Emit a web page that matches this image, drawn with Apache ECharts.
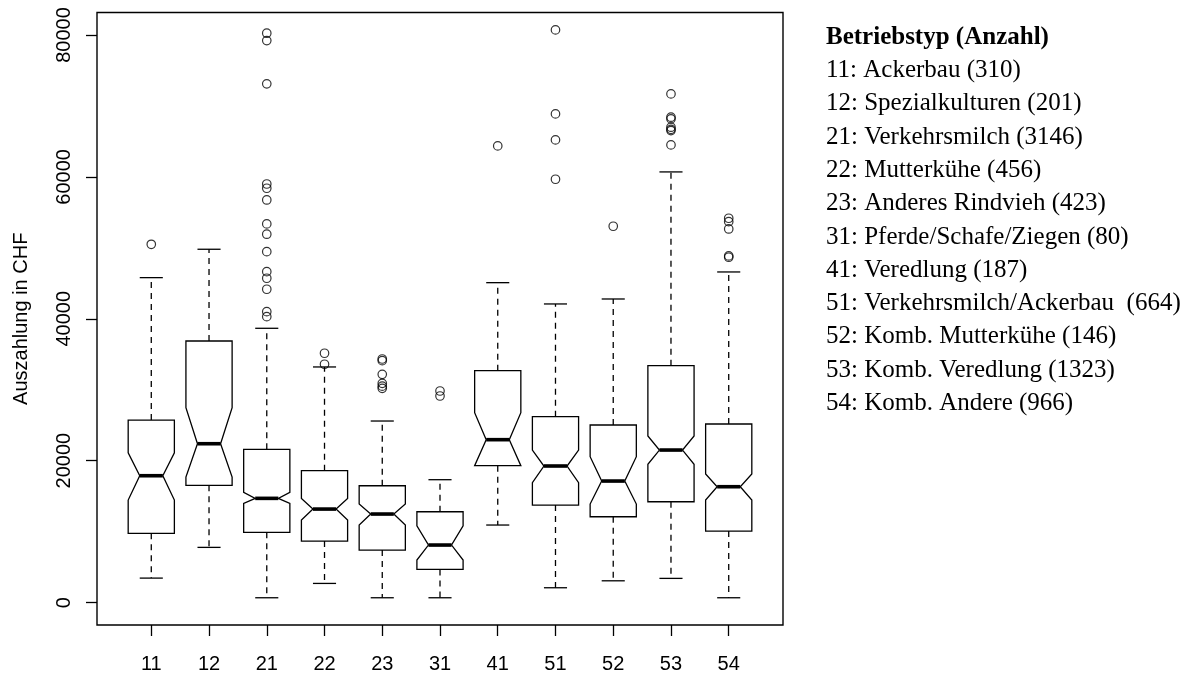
<!DOCTYPE html>
<html>
<head>
<meta charset="utf-8">
<script src="https://cdn.jsdelivr.net/npm/echarts@6/dist/echarts.min.js"></script>
<style>
html,body{margin:0;padding:0;background:#fff;}
#chart{width:1191px;height:675px;}
</style>
</head>
<body>
<div id="chart"></div>
<script>
// ---- data ----
const categories = ['11','12','21','22','23','31','41','51','52','53','54'];
const whiskerLow  = [3450, 7780,   680,  2700,   680,   680, 10930,  2090,  3070,  3410,   680];
const q1          = [9760, 16530, 9900,  8670,  7400,  4680, 19290, 13750, 12100, 14210, 10080];
const notchLow    = [14450, 17700, 13990, 11630, 10930, 5990, 19290, 16890, 13890, 19490, 14450];
const median      = [17880, 22390, 14690, 13180, 12480, 8110, 22960, 19250, 17130, 21500, 16330];
const notchHigh   = [21120, 27470, 15540, 14690, 13890, 10830, 26760, 21500, 20560, 23480, 18120];
const q3          = [25730, 36870, 21600, 18590, 16470, 12800, 32690, 26200, 25030, 33390, 25170];
const whiskerHigh = [45800, 49800, 38660, 33210, 25590, 17320, 45090, 42090, 42790, 60700, 46600];

const out11 = [50500];
const out12 = [];
const out21 = [80250, 79210, 73110, 59000, 58400, 56750, 53370, 51920, 49460, 46640, 45710, 44160, 41000, 40300];
const out22 = [35140, 33590];
const out23 = [34330, 34100, 32170, 30900, 30500, 30200];
const out31 = [29820, 29120];
const out41 = [64370];
const out51 = [80720, 68880, 65210, 59670];
const out52 = [53040];
const out53 = [71700, 68410, 68170, 67000, 66700, 66530, 64510];
const out54 = [54170, 53690, 52660, 48860, 48670];
const outliers = [out11, out12, out21, out22, out23, out31, out41, out51, out52, out53, out54];

const yTicks = [0, 20000, 40000, 60000, 80000];
const yAxisTitle = 'Auszahlung in CHF';
const legendTitle = 'Betriebstyp (Anzahl)';
const legendItems = [
  '11: Ackerbau (310)',
  '12: Spezialkulturen (201)',
  '21: Verkehrsmilch (3146)',
  '22: Mutterkühe (456)',
  '23: Anderes Rindvieh (423)',
  '31: Pferde/Schafe/Ziegen (80)',
  '41: Veredlung (187)',
  '51: Verkehrsmilch/Ackerbau  (664)',
  '52: Komb. Mutterkühe (146)',
  '53: Komb. Veredlung (1323)',
  '54: Komb. Andere (966)'
];

// ---- build ----
const positions = categories.map((c, i) => i + 1);
const boxData = categories.map((c, i) => [i + 1, whiskerLow[i], q1[i], notchLow[i], median[i], notchHigh[i], q3[i], whiskerHigh[i]]);
const outlierData = [];
outliers.forEach((arr, i) => arr.forEach(v => outlierData.push([i + 1, v])));

const sans = "'Liberation Sans', Arial, sans-serif";
const serif = "'Liberation Serif', 'Times New Roman', serif";

function renderBox(params, api) {
  const x = api.value(0);
  const lo = api.value(1), a = api.value(2), nl = api.value(3), md = api.value(4),
        nh = api.value(5), b = api.value(6), hi = api.value(7);
  const cx = api.coord([x, 0])[0];
  const Y = v => api.coord([x, v])[1];
  const w = api.size([0.4, 0])[0];
  const lw = 1.3;
  const pts = [
    [cx - w, Y(a)], [cx + w, Y(a)], [cx + w, Y(nl)], [cx + w / 2, Y(md)], [cx + w, Y(nh)],
    [cx + w, Y(b)], [cx - w, Y(b)], [cx - w, Y(nh)], [cx - w / 2, Y(md)], [cx - w, Y(nl)]
  ];
  const dash = [6, 5];
  return {
    type: 'group',
    children: [
      { type: 'line', shape: { x1: cx, y1: Y(b), x2: cx, y2: Y(hi) }, style: { stroke: '#000', lineWidth: lw, lineDash: dash } },
      { type: 'line', shape: { x1: cx, y1: Y(a), x2: cx, y2: Y(lo) }, style: { stroke: '#000', lineWidth: lw, lineDash: dash } },
      { type: 'line', shape: { x1: cx - w / 2, y1: Y(hi), x2: cx + w / 2, y2: Y(hi) }, style: { stroke: '#000', lineWidth: lw } },
      { type: 'line', shape: { x1: cx - w / 2, y1: Y(lo), x2: cx + w / 2, y2: Y(lo) }, style: { stroke: '#000', lineWidth: lw } },
      { type: 'polygon', shape: { points: pts }, style: { fill: '#fff', stroke: '#000', lineWidth: lw } },
      { type: 'line', shape: { x1: cx - w / 2, y1: Y(md), x2: cx + w / 2, y2: Y(md) }, style: { stroke: '#000', lineWidth: 3.6 } }
    ]
  };
}

const legendGraphics = [{
  type: 'text', left: 826, top: 25,
  style: { text: legendTitle, font: 'bold 25px ' + serif, fill: '#000' }
}].concat(legendItems.map((t, i) => ({
  type: 'text', left: 826, top: 58 + i * 33.3,
  style: { text: t, font: '25px ' + serif, fill: '#000' }
})));

const chart = echarts.init(document.getElementById('chart'), null, { renderer: 'canvas' });
chart.setOption({
  animation: false,
  backgroundColor: '#fff',
  grid: { left: 97, top: 12.5, right: 408, bottom: 50, show: true, borderColor: '#000', borderWidth: 1.4, backgroundColor: 'transparent' },
  xAxis: {
    type: 'value', min: 0.06, max: 11.94,
    axisLine: { show: false, onZero: false },
    splitLine: { show: false },
    axisTick: { show: true, length: 11, customValues: positions, lineStyle: { color: '#000', width: 1.3 } },
    axisLabel: { show: true, customValues: positions, margin: 29, fontFamily: sans, fontSize: 20, color: '#000',
      formatter: v => categories[Math.round(v) - 1] }
  },
  yAxis: {
    type: 'value', min: -3160, max: 83170,
    name: yAxisTitle, nameLocation: 'middle', nameGap: 66, nameRotate: 90,
    nameTextStyle: { fontFamily: sans, fontSize: 20, color: '#000' },
    axisLine: { show: false, onZero: false },
    splitLine: { show: false },
    axisTick: { show: true, length: 11, customValues: yTicks, lineStyle: { color: '#000', width: 1.3 } },
    axisLabel: { show: true, customValues: yTicks, rotate: 90, margin: 23, fontFamily: sans, fontSize: 20, color: '#000',
      formatter: v => String(Math.round(v)) }
  },
  series: [
    {
      type: 'custom', renderItem: renderBox, data: boxData,
      encode: { x: 0, y: [1, 2, 3, 4, 5, 6, 7] }, z: 2
    },
    {
      type: 'scatter', data: outlierData, symbol: 'circle', symbolSize: 8.5, z: 3,
      itemStyle: { color: 'rgba(255,255,255,0)', borderColor: '#000', borderWidth: 1.2 },
      emphasis: { disabled: true }
    }
  ],
  graphic: legendGraphics
});
</script>
</body>
</html>
